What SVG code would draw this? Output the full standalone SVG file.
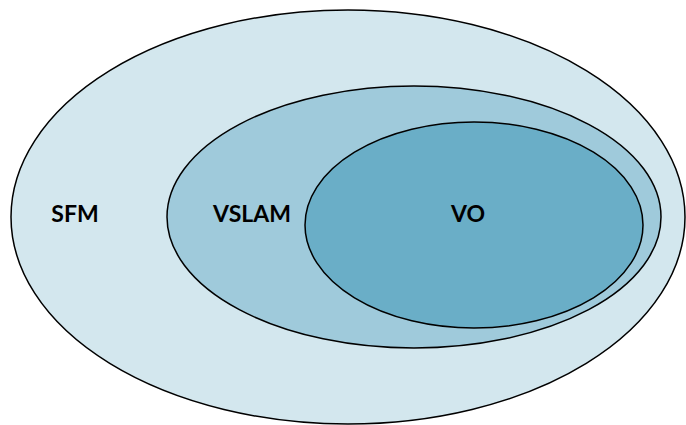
<svg xmlns="http://www.w3.org/2000/svg" width="686" height="425" viewBox="0 0 686 425">
<style>
.e{stroke:#000;stroke-width:1.5}
.t{font-family:Lato,"Liberation Sans",sans-serif;font-weight:bold;font-size:23px;fill:#000;text-anchor:middle}
</style>
<rect width="686" height="425" fill="#fff"/>
<g id="sfm"><ellipse class="e" cx="348" cy="217" rx="337" ry="207" fill="#d3e7ee"/><text class="t" x="75" y="222">SFM</text></g>
<g id="vslam"><ellipse class="e" cx="414" cy="217" rx="247" ry="131" fill="#9fcadb"/><text class="t" x="252" y="222">VSLAM</text></g>
<g id="vo"><ellipse class="e" cx="474" cy="225" rx="169" ry="103" fill="#6aaec7"/><text class="t" x="468" y="222">VO</text></g>
<g id="connectors"/>
</svg>
